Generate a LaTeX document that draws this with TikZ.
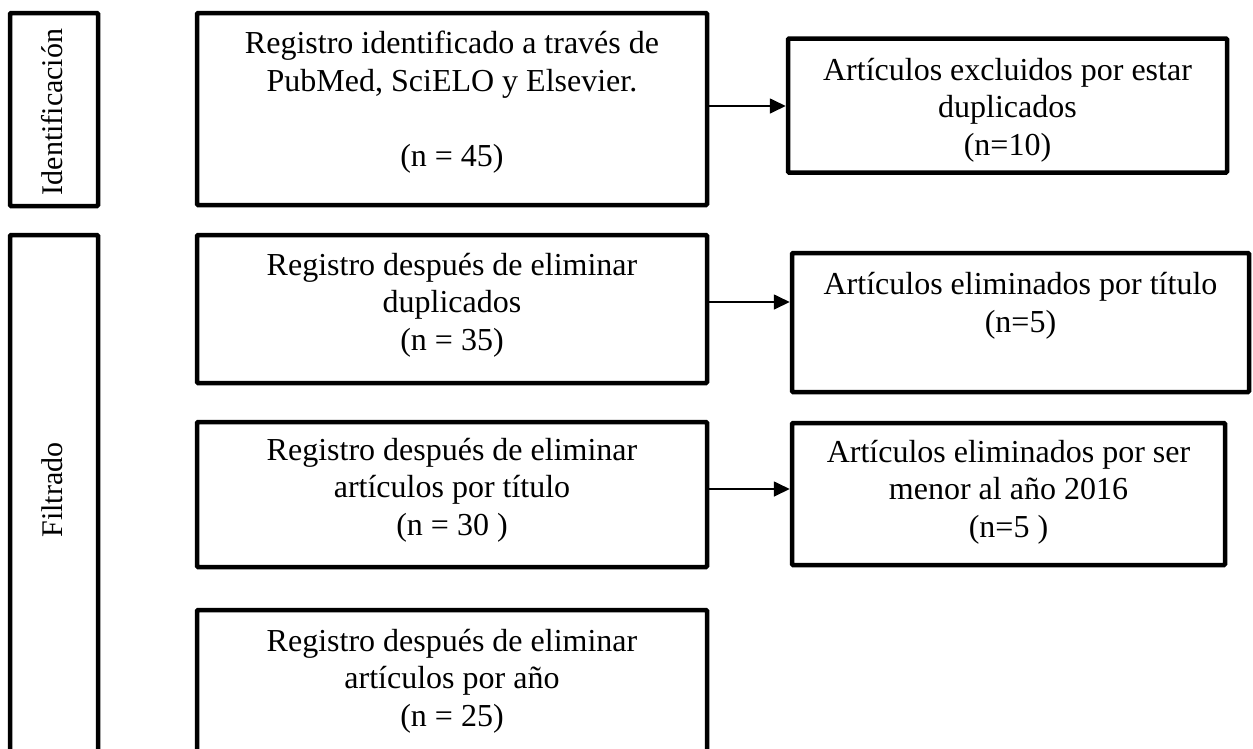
\documentclass[tikz,border=0pt]{standalone}
\usepackage{fontspec}
\setmainfont{Liberation Serif}
\usetikzlibrary{arrows.meta,calc}
\begin{document}
\begin{tikzpicture}[x=1pt,y=-1pt,
  boxst/.style={draw=black,line width=4.5pt,rounded corners=1pt,inner sep=0pt,rectangle},
  txt/.style={font=\fontsize{32}{37.5}\selectfont,align=center,inner sep=0pt},
  vtxt/.style={font=\fontsize{30}{37}\selectfont,inner sep=0pt,rotate=90},
  arr/.style={line width=1.7pt,-{Triangle[length=16pt,width=15pt]}}]
\useasboundingbox (0,0) rectangle (1253,748);
\clip (0,0) rectangle (1253,748);
% phase boxes
\node[boxst,minimum width=88pt,minimum height=193pt] (ID) at (54,109.5) {};
\node[boxst,minimum width=88pt,minimum height=535pt] (FI) at (54,502.5) {};
\node[vtxt] (tID) at (52,112) {Identificación};
\node[vtxt] (tFI) at (52,490) {Filtrado};
% main column
\node[boxst,minimum width=510pt,minimum height=192pt] (A) at (452,109) {};
\node[boxst,minimum width=510pt,minimum height=148pt] (B) at (452,309) {};
\node[boxst,minimum width=510pt,minimum height=145pt] (C) at (452,494.5) {};
\node[boxst,minimum width=510pt,minimum height=160pt] (D) at (452,690) {};
\node[txt] (tA) at (452,102) {Registro identificado a través de\\PubMed, SciELO y Elsevier.\\[37.5pt](n = 45)};
\node[txt] (tB) at (452,305) {Registro después de eliminar\\duplicados\\(n = 35)};
\node[txt] (tC) at (452,490) {Registro después de eliminar\\artículos por título\\(n = 30 )};
\node[txt] (tD) at (452,681) {Registro después de eliminar\\artículos por año\\(n = 25)};
% right column
\node[boxst,minimum width=439pt,minimum height=134pt] (R1) at (1007.5,105.5) {};
\node[boxst,minimum width=457pt,minimum height=139pt] (R2) at (1020.5,322.5) {};
\node[boxst,minimum width=433pt,minimum height=142pt] (R3) at (1008.5,494) {};
\node[txt] (tR1) at (1007.5,110) {Artículos excluidos por estar\\duplicados\\(n=10)};
\node[txt] (tR2) at (1020.5,306) {Artículos eliminados por título\\(n=5)};
\node[txt] (tR3) at (1008.5,492) {Artículos eliminados por ser\\menor al año 2016\\(n=5 )};
% connectors
\coordinate (ya) at (0,106);
\coordinate (yb) at (0,302);
\coordinate (yc) at (0,489);
\draw[arr] (A.east |- ya) -- (R1.west |- ya);
\draw[arr] (B.east |- yb) -- (R2.west |- yb);
\draw[arr] (C.east |- yc) -- (R3.west |- yc);
\end{tikzpicture}
\end{document}
